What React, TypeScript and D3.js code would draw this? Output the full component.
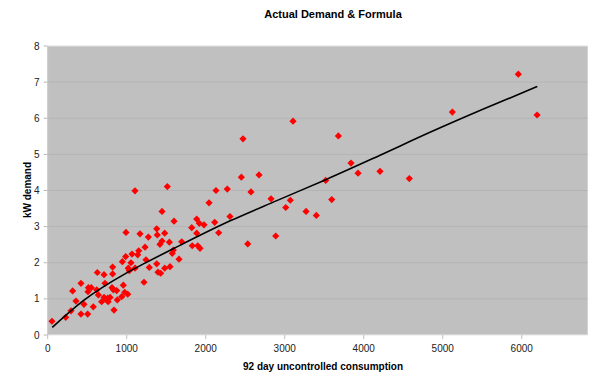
import React from "react";
import * as d3 from "d3";

const title = "Actual Demand & Formula";
const xTitle = "92 day uncontrolled consumption";
const yTitle = "kW demand";
const xTicks = [0, 1000, 2000, 3000, 4000, 5000, 6000];
const yTicks = [0, 1, 2, 3, 4, 5, 6, 7, 8];

// actual demand points [consumption, kW]
const consumption = [54,228,295,316,358,421,421,459,506,510,515,552,577,620,628,641,683,713,713,725,747,759,765,790,814,822,822,831,839,873,881,937,945,957,975,987,991,1013,1020,1033,1054,1067,1105,1105,1139,1152,1168,1219,1232,1244,1274,1286,1380,1380,1387,1396,1421,1430,1447,1447,1481,1481,1514,1540,1548,1577,1590,1599,1662,1696,1823,1830,1886,1886,1899,1919,1928,1978,2042,2114,2130,2164,2273,2307,2451,2472,2532,2573,2675,2827,2886,3013,3071,3105,3270,3400,3519,3595,3679,3839,3928,4206,4577,5122,5957,6194];
const demand = [0.38,0.49,0.67,1.22,0.94,1.43,0.58,0.85,0.58,1.20,1.31,1.31,0.78,1.25,1.73,1.11,0.92,1.67,1.04,1.43,0.97,1.02,0.92,1.04,1.31,1.88,1.69,1.25,0.69,1.23,0.97,1.06,2.03,1.38,1.18,2.17,2.84,1.13,1.85,1.78,2.00,2.24,1.85,3.99,2.22,2.33,2.80,1.46,2.43,2.08,2.71,1.87,2.94,1.97,2.77,1.74,2.51,1.71,2.60,3.42,2.82,1.85,4.11,2.57,1.89,2.26,2.35,3.15,2.10,2.58,2.97,2.47,3.21,2.82,2.47,3.09,2.40,3.05,3.66,3.12,4.00,2.83,4.04,3.28,4.37,5.43,2.52,3.96,4.43,3.77,2.74,3.53,3.73,5.92,3.42,3.31,4.28,3.75,5.51,4.76,4.48,4.53,4.33,6.17,7.22,6.09];

// formula line
const formulaX = [58, 451, 1000, 1232, 1600, 2310, 2900, 3519, 4200, 4839, 5500, 6197];
const formulaY = [0.21, 0.95, 1.72, 1.99, 2.40, 3.16, 3.72, 4.30, 4.97, 5.61, 6.24, 6.88];

const W = 616, H = 375;
const left = 47.7, right = 587.7, top = 46, bottom = 335;
const font = "'Liberation Sans', Arial, sans-serif";

export default function App() {
  const x = d3.scaleLinear().domain([0, 6835]).range([left, right]);
  const y = d3.scaleLinear().domain([0, 8]).range([bottom, top]);
  const pts = consumption.map((c, i) => [c, demand[i]] as [number, number]);
  const linePts = formulaX.map((c, i) => [c, formulaY[i]] as [number, number]);
  const line = d3.line<[number, number]>().x(d => x(d[0])).y(d => y(d[1])).curve(d3.curveMonotoneX);
  const s = 3.6;
  return (
    <svg width={W} height={H} style={{ position: "absolute", left: 0, top: 0, background: "#fff" }}>
      <text x={333} y={18} textAnchor="middle" fontFamily={font} fontWeight="bold" fontSize={11}>{title}</text>
      <rect x={left} y={top} width={right - left} height={bottom - top} fill="#c0c0c0" />
      {yTicks.map(t => (
        <g key={"y" + t}>
          {t > 0 && t < 8 && <line x1={left} x2={right} y1={y(t)} y2={y(t)} stroke="#b4b4b4" strokeWidth={1} />}
          <line x1={left - 4} x2={left} y1={y(t)} y2={y(t)} stroke="#b8b8b8" />
          <text x={39.5} y={y(t) + 3.5} textAnchor="end" fontFamily={font} fontSize={10} fill="#222">{t}</text>
        </g>
      ))}
      <line x1={left} x2={right} y1={top} y2={top} stroke="#e0e0e0" />
      <line x1={left} x2={left} y1={top} y2={bottom} stroke="#c8c8c8" />
      <line x1={left} x2={right} y1={bottom} y2={bottom} stroke="#e8e8e8" />
      {xTicks.map(t => (
        <g key={"x" + t}>
          <line x1={x(t)} x2={x(t)} y1={bottom} y2={bottom + 4} stroke="#c0c0c0" />
          <text x={x(t)} y={352} textAnchor="middle" fontFamily={font} fontSize={10} fill="#222">{t}</text>
        </g>
      ))}
      <text x={323} y={370} textAnchor="middle" fontFamily={font} fontWeight="bold" fontSize={10}>{xTitle}</text>
      <text transform="translate(31,190) rotate(-90)" textAnchor="middle" fontFamily={font} fontWeight="bold" fontSize={10}>{yTitle}</text>
      {pts.map((p, i) => (
        <path key={i} d={`M${x(p[0])},${y(p[1]) - s}L${x(p[0]) + s},${y(p[1])}L${x(p[0])},${y(p[1]) + s}L${x(p[0]) - s},${y(p[1])}Z`} fill="#ff0000" />
      ))}
      <path d={line(linePts) || ""} fill="none" stroke="#000" strokeWidth={1.6} />
    </svg>
  );
}
